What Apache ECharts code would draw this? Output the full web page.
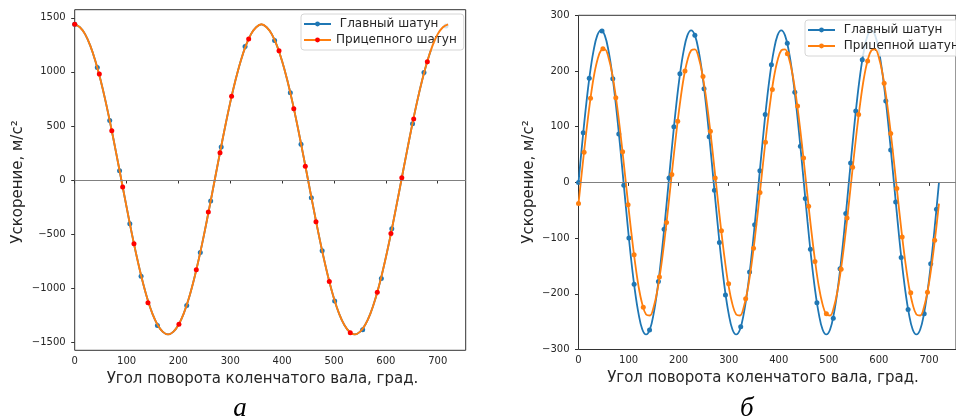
<!DOCTYPE html>
<html>
<head>
<meta charset="utf-8">
<script src="https://cdn.jsdelivr.net/npm/echarts@6/dist/echarts.min.js"></script>
<style>
html,body{margin:0;padding:0;background:#fff;}
#chart{width:956px;height:419px;}
</style>
</head>
<body>
<div id="chart"></div>
<script>
// ---------- Left chart (а): crank angle vs acceleration ----------
const leftAngles = [0,10,20,30,40,50,60,70,80,90,100,110,120,130,140,150,160,170,180,190,200,210,220,230,240,250,260,270,280,290,300,310,320,330,340,350,360,370,380,390,400,410,420,430,440,450,460,470,480,490,500,510,520,530,540,550,560,570,580,590,600,610,620,630,640,650,660,670,680,690,700,710,720];
const leftMain = [1440,1413,1349,1243,1099,922,718,491,249,0,-249,-491,-716,-920,-1096,-1238,-1341,-1405,-1428,-1405,-1341,-1238,-1096,-920,-716,-491,-249,0,249,491,718,922,1099,1243,1349,1413,
                  1440,1413,1349,1243,1099,922,718,491,249,0,-249,-491,-716,-920,-1096,-1238,-1341,-1405,-1428,-1405,-1341,-1238,-1096,-920,-716,-491,-249,0,249,491,718,922,1099,1243,1349,1413,1440];
const leftTrail = [1440,1413,1349,1243,1099,922,718,491,249,0,-249,-491,-716,-920,-1096,-1238,-1341,-1405,-1428,-1405,-1341,-1238,-1096,-920,-716,-491,-249,0,249,491,718,922,1099,1243,1349,1413,
                   1440,1413,1349,1243,1099,922,718,491,249,0,-249,-491,-716,-920,-1096,-1238,-1341,-1405,-1428,-1405,-1341,-1238,-1096,-920,-716,-491,-249,0,249,491,718,922,1099,1243,1349,1413,1440];
const leftMainPtsX = [0,43.6,67.5,86.5,106.3,128,159.5,216,242.2,262.2,282.5,328.5,385.5,415.8,436.4,456.3,477.2,501.3,555.3,591.3,611.5,651.5,673.5,716];
const leftMainPtsY = [1440,1041,550,85,-405,-890,-1345,-1160,-670,-195,305,1235,1290,806,331,-165,-655,-1120,-1385,-910,-450,520,995,1425];
const leftTrailPtsX = [0,47.5,71.5,92.5,114.3,141.3,201,234.5,257.7,280.2,302.5,335.5,394,422.5,444.7,465.3,491,531.4,583.5,609.8,630.8,653.7,680];
const leftTrailPtsY = [1440,980,455,-65,-590,-1135,-1335,-830,-295,253,775,1305,1196,660,127,-386,-939,-1412,-1038,-495,20,565,1094];
const leftYTicks = [-1500,-1000,-500,0,500,1000,1500];

// ---------- Right chart (б) ----------
const rightAngles = [0,7.5,15,22.5,30,37.5,45,52.5,60,67.5,75,82.5,90,97.5,105,112.5,120,127.5,135,142.5,150,157.5,165,172.5,
  180,187.5,195,202.5,210,217.5,225,232.5,240,247.5,255,262.5,270,277.5,285,292.5,300,307.5,315,322.5,330,337.5,345,352.5,
  360,367.5,375,382.5,390,397.5,405,412.5,420,427.5,435,442.5,450,457.5,465,472.5,480,487.5,495,502.5,510,517.5,525,532.5,
  540,547.5,555,562.5,570,577.5,585,592.5,600,607.5,615,622.5,630,637.5,645,652.5,660,667.5,675,682.5,690,697.5,705,712.5,720];
const rightMain = [0,71,137,193,236,264,273,264,236,193,137,71,0,-71,-137,-193,-236,-264,-273,-264,-236,-193,-137,-71,
  0,71,137,193,236,264,273,264,236,193,137,71,0,-71,-137,-193,-236,-264,-273,-264,-236,-193,-137,-71,
  0,71,137,193,236,264,273,264,236,193,137,71,0,-71,-137,-193,-236,-264,-273,-264,-236,-193,-137,-71,
  0,71,137,193,236,264,273,264,236,193,137,71,0,-71,-137,-193,-236,-264,-273,-264,-236,-193,-137,-71,0];
const rightTrail = [-38,25,86,141,187,219,237,239,224,194,151,98,38,-25,-86,-141,-187,-219,-237,-239,-224,-194,-151,-98,
  -38,25,86,141,187,219,237,239,224,194,151,98,38,-25,-86,-141,-187,-219,-237,-239,-224,-194,-151,-98,
  -38,25,86,141,187,219,237,239,224,194,151,98,38,-25,-86,-141,-187,-219,-237,-239,-224,-194,-151,-98,
  -38,25,86,141,187,219,237,239,224,194,151,98,38,-25,-86,-141,-187,-219,-237,-239,-224,-194,-151,-98,-38];
const rightMainPtsX = [0,9.5,21.5,47,68.5,80.5,90.5,100.7,111.1,141.9,159.6,171,180.8,190.5,202.5,232.4,250.7,261,271.5,281.5,293.5,324,341.7,351.8,362.3,373,385.3,417,432,443.2,453,463.2,476.2,508.9,522.4,533.8,543.5,553.8,566.8,613.8,623.6,633.5,644.5,658.3,690.5,703.5,715];
const rightMainPtsY = [0,89,187,272,186,87,-5,-100,-183,-265,-178,-84,8,100,195,264,168,82,-14,-108,-202,-259,-161,-76,21,122,211,250,162,65,-29,-120,-216,-244,-155,-56,35,128,220,146,58,-35,-135,-228,-236,-146,-48];
const rightTrailPtsX = [0,11.2,24,48.8,74.5,88.1,99,111.1,129.4,161.6,175.8,186.4,198.2,212.7,248.7,263.5,273,285.5,299.8,333.9,349.6,362.5,373.5,387.2,417.2,437.5,449.5,459.7,472.3,495.1,524.6,536.4,547.5,559.5,577.5,610.5,623.6,635.8,646.5,663.6,697,711.4];
const rightTrailPtsY = [-38,54,151,240,152,55,-40,-130,-224,-170,-72,14,110,200,190,92,8,-87,-182,-209,-118,-18,72,167,231,137,44,-43,-142,-236,-156,-64,27,122,218,178,88,-11,-98,-198,-197,-104];
const rightYTicks = [-300,-200,-100,0,100,200,300];
const xTicks = [0,100,200,300,400,500,600,700];

const zip = (xs, ys) => xs.map((x, i) => [x, ys[i]]);

const FONT = 'DejaVu Sans';
const INK = '#262626';
const BLUE = '#1f77b4', ORANGE = '#ff7f0e', RED = '#ff0000';
const minusFmt = v => String(v).replace('-', '\u2212');

function xAxisCfg(gi) {
  return {
    type: 'value', gridIndex: gi, min: 0, max: 754,
    axisLine: { show: false },
    splitLine: { show: false },
    axisTick: { show: true, length: 3.5, customValues: xTicks, lineStyle: { color: '#333', width: 1 } },
    axisLabel: { customValues: xTicks, fontFamily: FONT, fontSize: 10, color: INK, margin: 6, formatter: minusFmt }
  };
}
function yAxisCfg(gi, min, max, ticks) {
  return {
    type: 'value', gridIndex: gi, min: min, max: max,
    axisLine: { show: false },
    splitLine: { show: false },
    axisTick: { show: true, length: 3.5, customValues: ticks, lineStyle: { color: '#333', width: 1 } },
    axisLabel: { customValues: ticks, fontFamily: FONT, fontSize: 10, color: INK, margin: 9, formatter: minusFmt }
  };
}
const zeroLine = {
  silent: true, symbol: ['none', 'none'], label: { show: false },
  lineStyle: { color: '#808080', width: 1, type: 'solid' },
  data: [{ yAxis: 0 }], animation: false
};
function legendCfg(left, top, names, fmt) {
  return {
    orient: 'vertical', left: left, top: top, data: names,
    itemWidth: 27, itemHeight: 6, itemGap: 2,
    padding: [3, 7, 3, 2],
    borderColor: '#d6d6d6', borderWidth: 1, borderRadius: 3,
    backgroundColor: 'rgba(255,255,255,0.8)',
    selectedMode: false,
    formatter: fmt,
    textStyle: { fontFamily: FONT, fontSize: 12, color: INK, lineHeight: 14 }
  };
}

const chart = echarts.init(document.getElementById('chart'), null, { renderer: 'canvas' });
chart.setOption({
  animation: false,
  backgroundColor: '#fff',
  grid: [
    { left: 74.7, top: 9.7, width: 391, height: 340.6, show: true, borderColor: '#333', borderWidth: 1, backgroundColor: 'transparent' },
    { left: 578.5, top: 15.3, width: 383.5, height: 334.2, show: true, borderColor: '#333', borderWidth: 1, backgroundColor: 'transparent' }
  ],
  xAxis: [xAxisCfg(0), xAxisCfg(1)],
  yAxis: [yAxisCfg(0, -1575, 1575, leftYTicks), yAxisCfg(1, -300, 300, rightYTicks)],
  legend: [
    legendCfg(301, 14, [' Главный шатун', 'Прицепного шатун'], n => n),
    legendCfg(805, 20, ['Главный шатун', 'Прицепной шатун'], n => ' ' + n)
  ],
  series: [
    { type: 'line', name: ' Главный шатун', xAxisIndex: 0, yAxisIndex: 0, data: zip(leftAngles, leftMain),
      smooth: 0.4, showSymbol: false, symbol: 'circle', color: BLUE,
      lineStyle: { color: BLUE, width: 1.8 }, itemStyle: { color: BLUE }, markLine: zeroLine, z: 2 },
    { type: 'scatter', name: 'left-main-pts', xAxisIndex: 0, yAxisIndex: 0, data: zip(leftMainPtsX, leftMainPtsY),
      symbolSize: 5, itemStyle: { color: BLUE, opacity: 1 }, z: 3 },
    { type: 'line', name: 'Прицепного шатун', xAxisIndex: 0, yAxisIndex: 0, data: zip(leftAngles, leftTrail),
      smooth: 0.4, showSymbol: false, symbol: 'circle', color: ORANGE,
      lineStyle: { color: ORANGE, width: 1.9 }, itemStyle: { color: RED }, z: 4 },
    { type: 'scatter', name: 'left-trail-pts', xAxisIndex: 0, yAxisIndex: 0, data: zip(leftTrailPtsX, leftTrailPtsY),
      symbolSize: 5, itemStyle: { color: RED, opacity: 1 }, z: 5 },

    { type: 'line', name: 'Главный шатун', xAxisIndex: 1, yAxisIndex: 1, data: zip(rightAngles, rightMain),
      smooth: 0.4, showSymbol: false, symbol: 'circle', color: BLUE,
      lineStyle: { color: BLUE, width: 1.8 }, itemStyle: { color: BLUE }, markLine: zeroLine, z: 2 },
    { type: 'scatter', name: 'right-main-pts', xAxisIndex: 1, yAxisIndex: 1, data: zip(rightMainPtsX, rightMainPtsY),
      symbolSize: 5, itemStyle: { color: BLUE, opacity: 1 }, z: 3 },
    { type: 'line', name: 'Прицепной шатун', xAxisIndex: 1, yAxisIndex: 1, data: zip(rightAngles, rightTrail),
      smooth: 0.4, showSymbol: false, symbol: 'circle', color: ORANGE,
      lineStyle: { color: ORANGE, width: 1.8 }, itemStyle: { color: ORANGE }, z: 4 },
    { type: 'scatter', name: 'right-trail-pts', xAxisIndex: 1, yAxisIndex: 1, data: zip(rightTrailPtsX, rightTrailPtsY),
      symbolSize: 5, itemStyle: { color: ORANGE, opacity: 1 }, z: 5 }
  ],
  graphic: [
    { type: 'text', x: 18, y: 182, rotation: Math.PI / 2, silent: true,
      style: { text: 'Ускорение, м/с²', font: '15px "DejaVu Sans"', fill: INK, align: 'center', verticalAlign: 'middle' } },
    { type: 'text', x: 529, y: 182, rotation: Math.PI / 2, silent: true,
      style: { text: 'Ускорение, м/с²', font: '15px "DejaVu Sans"', fill: INK, align: 'center', verticalAlign: 'middle' } },
    { type: 'text', x: 262.5, y: 379, silent: true,
      style: { text: 'Угол поворота коленчатого вала, град.', font: '15px "DejaVu Sans"', fill: INK, align: 'center', verticalAlign: 'middle' } },
    { type: 'text', x: 763, y: 378, silent: true,
      style: { text: 'Угол поворота коленчатого вала, град.', font: '15px "DejaVu Sans"', fill: INK, align: 'center', verticalAlign: 'middle' } },
    { type: 'text', x: 240, y: 408.5, silent: true,
      style: { text: 'а', font: 'italic 27px "Liberation Serif"', fill: '#000', align: 'center', verticalAlign: 'middle' } },
    { type: 'text', x: 746.7, y: 408.5, silent: true,
      style: { text: 'б', font: 'italic 27px "Liberation Serif"', fill: '#000', align: 'center', verticalAlign: 'middle' } }
  ]
});
</script>
</body>
</html>
